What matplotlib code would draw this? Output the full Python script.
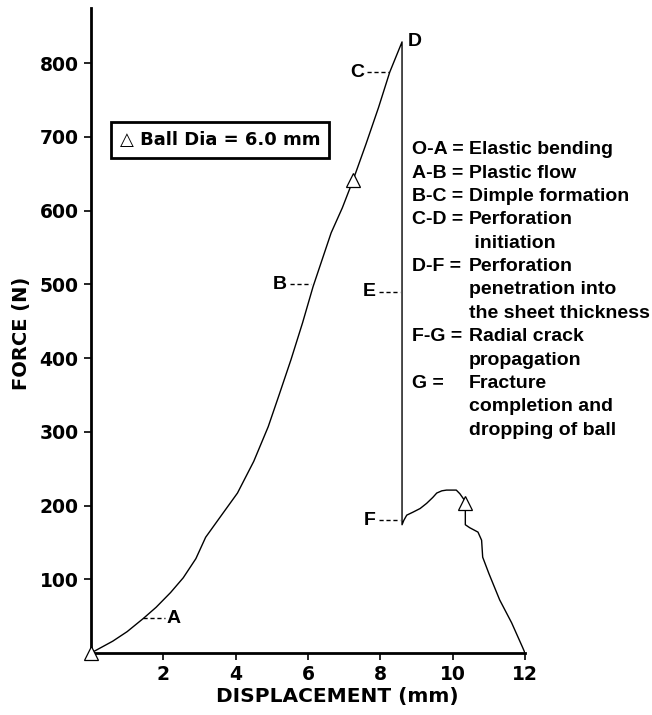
import matplotlib
matplotlib.use('Agg')
import numpy as np
from matplotlib import pyplot as plt

plt.rcParams['font.family'] = ['Liberation Sans', 'DejaVu Sans']
plt.rcParams['font.weight'] = 'bold'

# force-displacement curve (mm, N)
disp = [0.0, 0.3, 0.6, 1.0, 1.45, 1.8, 2.2, 2.55, 2.9, 3.17, 3.58, 4.05,
        4.5, 4.9, 5.2, 5.53, 5.85, 6.14, 6.4, 6.64, 6.95, 7.25, 7.6, 7.95,
        8.26, 8.6,
        8.6, 8.65, 8.73, 8.9, 9.1, 9.28, 9.45, 9.56, 9.7, 9.83, 10.1, 10.2,
        10.33, 10.35, 10.35, 10.47, 10.7, 10.8, 10.83, 11.0, 11.3, 11.63,
        11.93, 12.0]
force = [0, 8, 16, 29, 47, 62, 82, 102, 128, 157, 185, 217,
         260, 307, 350, 398, 448, 497, 535, 570, 604, 642, 690, 740,
         788, 829,
         174, 180, 187, 191, 196, 203, 211, 217, 220, 221, 221, 216,
         207, 203, 174, 170, 164, 153, 130, 108, 72, 41,
         8, 0]

# open triangles on the curve
tri_x = [0.0, 7.25, 10.33]
tri_y = [0, 642, 203]

# point labels: name, point on curve, side of the label
point_names = ['A', 'B', 'C', 'E', 'F']
point_x = [1.45, 6.14, 8.28, 8.6, 8.6]
point_y = [47, 500, 788, 490, 180]
point_side = ['right', 'left', 'left', 'left', 'left']

stage_keys = ['O-A =', 'A-B =', 'B-C =', 'C-D =', '', 'D-F =', '', '',
              'F-G =', '', 'G =', '', '']
stage_text = ['Elastic bending', 'Plastic flow', 'Dimple formation',
              'Perforation', ' initiation', 'Perforation',
              'penetration into', 'the sheet thickness', 'Radial crack',
              'propagation', 'Fracture', 'completion and',
              'dropping of ball']

fig = plt.figure(figsize=(6.52, 7.15), dpi=100)
ax = fig.add_axes([91 / 652, 1 - 653 / 715, 434 / 652, 645 / 715])

ax.plot(disp, force, color='black', lw=1.0)
ax.plot(tri_x, tri_y, ls='none', marker='^', ms=10, mfc='white',
        mec='black', mew=0.9, clip_on=False, zorder=5)

for name, px, py, side in zip(point_names, point_x, point_y, point_side):
    if side == 'right':
        ax.plot([px, px + 0.6], [py, py], color='black', lw=1,
                ls=(0, (3, 2)))
        ax.text(px + 0.65, py, name, ha='left', va='center', fontsize=14)
    else:
        ax.plot([px - 0.65, px - 0.05], [py, py], color='black', lw=1,
                ls=(0, (3, 2)))
        ax.text(px - 0.72, py, name, ha='right', va='center', fontsize=14)

# peak label
ax.text(disp[25] + 0.15, force[25], 'D', ha='left', va='center',
        fontsize=14)

# box
ax.text(0.297, 0.795, '\u25b3 Ball Dia = 6.0 mm', transform=ax.transAxes,
        ha='center', va='center', fontsize=13, family='DejaVu Sans',
        bbox=dict(boxstyle='square,pad=0.5', fc='white', ec='black',
                  lw=2))

# stage descriptions
y0 = 0.780
dy = 0.0362
for i, (k, t) in enumerate(zip(stage_keys, stage_text)):
    y = y0 - i * dy
    if k:
        ax.text(0.740, y, k, transform=ax.transAxes, ha='left',
                va='center', fontsize=14)
    ax.text(0.871, y, t, transform=ax.transAxes, ha='left', va='center',
            fontsize=14)

ax.set_xlim(0, 12)
ax.set_ylim(0, 875)
ax.set_xticks([2, 4, 6, 8, 10, 12])
ax.set_yticks([100, 200, 300, 400, 500, 600, 700, 800])
ax.spines['top'].set_visible(False)
ax.spines['right'].set_visible(False)
ax.spines['left'].set_linewidth(2)
ax.spines['bottom'].set_linewidth(2)
ax.tick_params(length=5, width=1.2, labelsize=13.5, pad=4)
for lab in ax.get_xticklabels() + ax.get_yticklabels():
    lab.set_family('DejaVu Sans')
    lab.set_fontweight('bold')

ax.set_xlabel('DISPLACEMENT (mm)', fontsize=14.5, family='DejaVu Sans',
              fontweight='bold', va='center')
ax.set_ylabel('FORCE (N)', fontsize=14, family='DejaVu Sans',
              fontweight='bold', va='center')
ax.xaxis.set_label_coords(0.567, -0.067)
ax.yaxis.set_label_coords(-0.161, 0.496)

plt.savefig('out.png')
